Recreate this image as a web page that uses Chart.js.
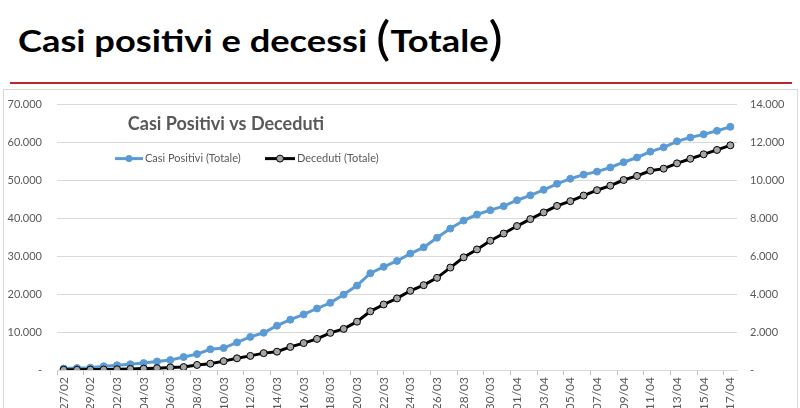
<!DOCTYPE html>
<html>
<head>
<meta charset="utf-8">
<script src="https://cdn.jsdelivr.net/npm/chart.js@4.4.1/dist/chart.umd.min.js"></script>
<style>
  html, body { margin: 0; padding: 0; background: #fff; overflow: hidden; }
  body { width: 800px; height: 408px; position: relative; }
  #title {
    position: absolute; left: 18px; top: 13px;
    font-family: Lato, sans-serif; font-weight: bold; font-size: 31px; color: #000;
    white-space: nowrap; line-height: 50px;
    transform: scaleX(1.17); transform-origin: left center;
  }
  #title .par { font-weight: normal; font-size: 46px; vertical-align: -3px; }
  #rule { position: absolute; left: 10px; top: 82px; width: 782px; height: 2px; background: #b8282e; }
  #frame { position: absolute; left: 3px; top: 89px; width: 793px; height: 330px; border: 1px solid #d9d9d9; }
  #wrap { position: absolute; left: 3px; top: 83px; width: 794px; height: 332px; }
</style>
</head>
<body>
<div id="title">Casi positivi e decessi <span class="par">(</span>Totale<span class="par">)</span></div>
<div id="rule"></div>
<div id="frame"></div>
<div id="wrap"><canvas id="chart"></canvas></div>
<script>
const days = [
  '27/02', '28/02', '29/02',
  '01/03', '02/03', '03/03', '04/03', '05/03', '06/03', '07/03', '08/03', '09/03', '10/03',
  '11/03', '12/03', '13/03', '14/03', '15/03', '16/03', '17/03', '18/03', '19/03', '20/03',
  '21/03', '22/03', '23/03', '24/03', '25/03', '26/03', '27/03', '28/03', '29/03', '30/03', '31/03',
  '01/04', '02/04', '03/04', '04/04', '05/04', '06/04', '07/04', '08/04', '09/04', '10/04',
  '11/04', '12/04', '13/04', '14/04', '15/04', '16/04', '17/04'
];

const casiPositivi = [
  403, 531, 615,
  984, 1254, 1520, 1820, 2251, 2612, 3420, 4189, 5469, 5791,
  7280, 8725, 9820, 11685, 13272, 14649, 16220, 17713, 19884, 22264,
  25515, 27206, 28761, 30703, 32346, 34889, 37298, 39415, 41007, 42161, 43208,
  44773, 46065, 47520, 49118, 50455, 51534, 52325, 53414, 54802, 56048,
  57592, 58729, 60314, 61326, 62153, 63094, 64135
];

const deceduti = [
  14, 17, 23,
  24, 38, 55, 73, 98, 135, 154, 267, 333, 468,
  617, 744, 890, 966, 1218, 1420, 1640, 1959, 2168, 2549,
  3095, 3456, 3776, 4178, 4474, 4861, 5402, 5944, 6360, 6818, 7199,
  7593, 7960, 8311, 8656, 8905, 9202, 9484, 9722, 10022, 10238,
  10511, 10621, 10901, 11142, 11377, 11608, 11851
];

const leftTicks = [0, 10000, 20000, 30000, 40000, 50000, 60000, 70000];
const rightTicks = [0, 2000, 4000, 6000, 8000, 10000, 12000, 14000];

const blue = '#5b9bd5';
const gray = '#595959';
const font = 'Lato, "Open Sans", sans-serif';

function fmt(v) {
  if (v === 0) return '-';
  return String(v).replace(/\B(?=(\d{3})+(?!\d))/g, '.');
}

const overlay = {
  id: 'overlay',
  afterDraw(chart) {
    const { ctx, chartArea } = chart;
    const x0 = chartArea.left, y0 = chartArea.top;
    ctx.save();
    ctx.fillStyle = gray;
    ctx.font = 'bold 18px ' + font;
    ctx.textAlign = 'center';
    ctx.textBaseline = 'middle';
    ctx.fillText('Casi Positivi vs Deceduti', x0 + 169, y0 + 20);

    const ly = y0 + 54;
    ctx.font = '11px ' + font;
    ctx.textAlign = 'left';
    // blue entry
    ctx.strokeStyle = blue; ctx.lineWidth = 3;
    ctx.beginPath(); ctx.moveTo(x0 + 58, ly); ctx.lineTo(x0 + 86, ly); ctx.stroke();
    ctx.fillStyle = blue;
    ctx.beginPath(); ctx.arc(x0 + 72, ly, 3.5, 0, Math.PI * 2); ctx.fill();
    ctx.fillStyle = gray;
    ctx.fillText('Casi Positivi (Totale)', x0 + 88, ly);
    // black entry
    ctx.strokeStyle = '#000';
    ctx.beginPath(); ctx.moveTo(x0 + 208, ly); ctx.lineTo(x0 + 238, ly); ctx.stroke();
    ctx.fillStyle = '#a5a5a5'; ctx.lineWidth = 1;
    ctx.beginPath(); ctx.arc(x0 + 223, ly, 3.5, 0, Math.PI * 2); ctx.fill(); ctx.stroke();
    ctx.fillStyle = gray;
    ctx.fillText('Deceduti (Totale)', x0 + 240, ly);
    ctx.restore();
  }
};

new Chart(document.getElementById('chart'), {
  type: 'line',
  data: {
    labels: days,
    datasets: [{
      label: 'Casi Positivi (Totale)',
      data: casiPositivi,
      yAxisID: 'y',
      borderColor: blue,
      backgroundColor: blue,
      borderWidth: 3,
      pointRadius: 3.5,
      pointBackgroundColor: blue,
      pointBorderColor: blue,
      pointBorderWidth: 1,
      tension: 0,
      order: 2,
    }, {
      label: 'Deceduti (Totale)',
      data: deceduti,
      yAxisID: 'y1',
      borderColor: '#000',
      backgroundColor: '#a5a5a5',
      borderWidth: 3,
      pointRadius: 3.5,
      pointBackgroundColor: '#a5a5a5',
      pointBorderColor: '#000',
      pointBorderWidth: 1,
      tension: 0,
      order: 1,
    }],
  },
  options: {
    responsive: true,
    maintainAspectRatio: false,
    animation: false,
    layout: { padding: { top: 4, left: 0, right: 0, bottom: 0 } },
    plugins: {
      legend: { display: false },
      tooltip: { enabled: false },
    },
    scales: {
      x: {
        offset: true,
        grid: {
          offset: true,
          drawOnChartArea: false,
          tickLength: 5,
          color: (c) => (c.index % 2 === 0 ? '#bfbfbf' : 'rgba(0,0,0,0)'),
        },
        border: { color: '#d9d9d9' },
        ticks: {
          autoSkip: false,
          minRotation: 90,
          maxRotation: 90,
          color: gray,
          font: { family: font, size: 12 },
          padding: 2,
          callback: function (v, i) { return i % 2 === 0 ? days[i] : ''; },
        },
        afterFit: (s) => { s.height = 45; },
      },
      y: {
        position: 'left',
        min: 0,
        max: 70000,
        afterBuildTicks: (s) => { s.ticks = leftTicks.map((v) => ({ value: v })); },
        grid: { color: '#d9d9d9', drawTicks: false },
        border: { display: false },
        ticks: {
          color: gray,
          font: { family: font, size: 11 },
          padding: 15,
          callback: (v) => fmt(v),
        },
        afterFit: (s) => { s.width = 54; },
      },
      y1: {
        position: 'right',
        min: 0,
        max: 14000,
        afterBuildTicks: (s) => { s.ticks = rightTicks.map((v) => ({ value: v })); },
        grid: { drawOnChartArea: false, drawTicks: false },
        border: { display: false },
        ticks: {
          color: gray,
          font: { family: font, size: 11 },
          padding: 13,
          callback: (v) => fmt(v),
        },
        afterFit: (s) => { s.width = 60; },
      },
    },
  },
  plugins: [overlay],
});
</script>
</body>
</html>
